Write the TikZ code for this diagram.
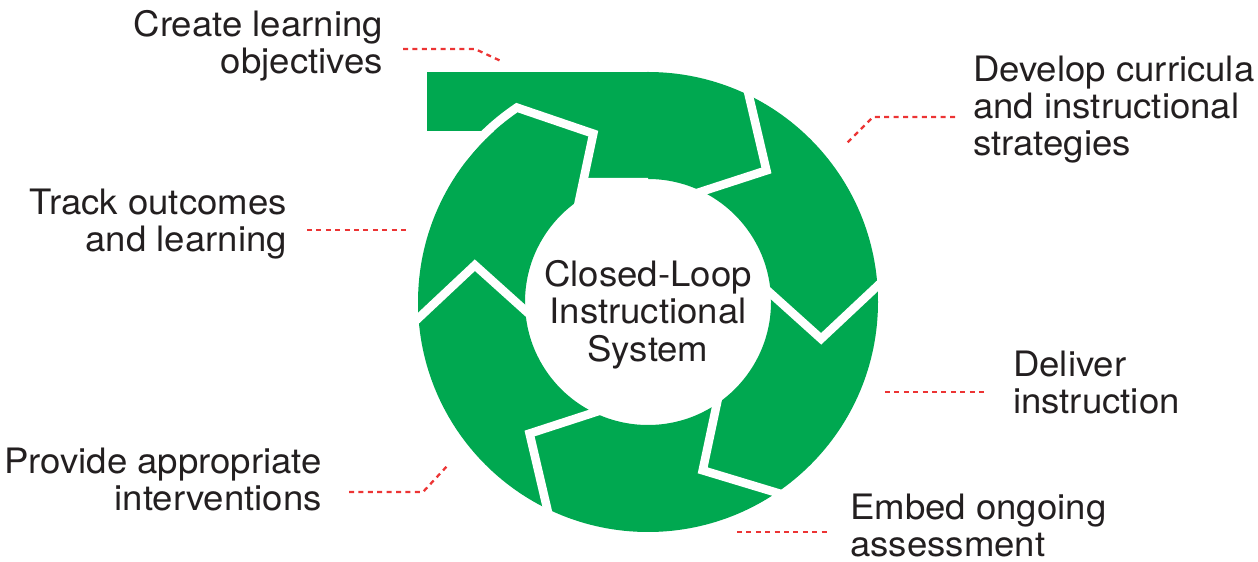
\documentclass[tikz,border=0pt]{standalone}
\usepackage{fontspec}
\setmainfont{TeX Gyre Heros}[FakeStretch=1.045]
\usetikzlibrary{calc}
\definecolor{ringgreen}{RGB}{0,168,80}
\definecolor{labelgray}{RGB}{35,31,32}
\definecolor{leadred}{RGB}{236,52,52}
\begin{document}
\begin{tikzpicture}[x=1pt,y=1pt,
  gap/.style={draw=white, line width=8.5pt, line join=miter, miter limit=10},
  leader/.style={draw=leadred, line width=2.3pt, dash pattern=on 5pt off 4.4pt},
  lab/.style={inner sep=0pt, text=labelgray, font=\fontsize{35}{37}\selectfont},
]
\useasboundingbox (0,0) rectangle (1258,562);
\coordinate (C) at (648,260);
% green ring and tail
\fill[ringgreen, even odd rule] (C) circle[radius=230] (C) circle[radius=123];
\fill[ringgreen] (427,490) rectangle (648,431);
\fill[ringgreen] (560,490) rectangle (648,384);
% gap at the tail (upper left arrow head)
\coordinate (T6) at ($(C)+(-252:177)$);
\coordinate (I6) at ($(C)+(-236:123)$);
\coordinate (I6x) at ($(T6)!1.35!(I6)$);
\coordinate (FA) at (500,384);
\coordinate (FB) at (648,384);
\coordinate (FC) at (648,250);
\fill[white] (intersection of T6--I6 and FA--FB) -- (FB) -- (FC) -- (I6x) -- cycle;
\draw[gap] ($(C)+(-218:234.5)$) arc[start angle=-218, end angle=-236, radius=234.5] -- (T6) -- (I6x);
% other chevron gaps
\foreach \b [evaluate=\b as \t using \b-16] in {64,4,-56,-116,-176} {
  \coordinate (O) at ($(C)+(\b:230)$);
  \coordinate (T) at ($(C)+(\t:177)$);
  \coordinate (I) at ($(C)+(\b:123)$);
  \draw[gap] ($(T)!1.2!(O)$) -- (T) -- ($(T)!1.35!(I)$);
}
% centre text
\node[lab, anchor=base] (centre) at (648,275) {\begin{tabular}[t]{@{}c@{}}Closed-Loop\\Instructional\\System\end{tabular}};
% labels
\node[lab, anchor=base east] (create) at (383,525) {\begin{tabular}[t]{@{}r@{}}Create learning\\objectives\end{tabular}};
\node[lab, anchor=base west] (develop) at (973,480) {\begin{tabular}[t]{@{}l@{}}Develop curricula\\and instructional\\strategies\end{tabular}};
\node[lab, anchor=base west] (deliver) at (1013,185) {\begin{tabular}[t]{@{}l@{}}Deliver\\instruction\end{tabular}};
\node[lab, anchor=base west] (embed) at (850,42) {\begin{tabular}[t]{@{}l@{}}Embed ongoing\\assessment\end{tabular}};
\node[lab, anchor=base east] (provide) at (322,88) {\begin{tabular}[t]{@{}r@{}}Provide appropriate\\interventions\end{tabular}};
\node[lab, anchor=base east] (track) at (287,347) {\begin{tabular}[t]{@{}r@{}}Track outcomes\\and learning\end{tabular}};
% leader coordinates
\coordinate (a1) at (403,513); \coordinate (a2) at (475,513); \coordinate (a3) at (503,500);
\coordinate (b1) at (955,445); \coordinate (b2) at (873,445); \coordinate (b3) at (845,417);
\coordinate (c1) at (307,332); \coordinate (c2) at (410,332);
\coordinate (d1) at (349,70);  \coordinate (d2) at (423,70);  \coordinate (d3) at (449,98);
\coordinate (e1) at (885,170); \coordinate (e2) at (987,170);
\coordinate (f1) at (737,30);  \coordinate (f2) at (830,30);
\draw[leader] (a1) -- (a2) -- (a3);
\draw[leader] (b1) -- (b2) -- (b3);
\draw[leader] (c1) -- (c2);
\draw[leader] (d1) -- (d2) -- (d3);
\draw[leader] (e1) -- (e2);
\draw[leader] (f1) -- (f2);
\end{tikzpicture}
\end{document}
